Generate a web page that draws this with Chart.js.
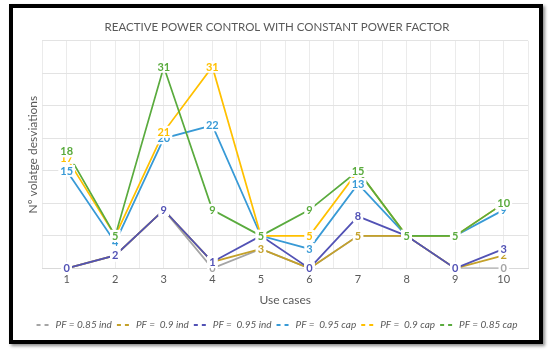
<!DOCTYPE html>
<html>
<head>
<meta charset="utf-8">
<script src="https://cdn.jsdelivr.net/npm/chart.js@4/dist/chart.umd.min.js"></script>
<style>
  html, body { margin: 0; padding: 0; background: #fff; }
  #wrap { position: relative; width: 550px; height: 354px; }
  #frame {
    position: absolute; left: 9px; top: 4px; width: 534px; height: 340px;
    box-sizing: border-box; border: 4px solid #000;
    box-shadow: 2px 2px 3px rgba(0,0,0,0.45); pointer-events: none;
  }
</style>
</head>
<body>
<div id="wrap">
  <canvas id="chart" width="550" height="354"></canvas>
  <div id="frame"></div>
</div>
<script>
// use cases on the x axis
const cases = [1, 2, 3, 4, 5, 6, 7, 8, 9, 10];

// nº of voltage deviations per power factor setting
const pf085ind = [0, 2, 9, 0, 3, 0, 5, 5, 0, 0];
const pf09ind  = [0, 2, 9, 1, 3, 0, 5, 5, 0, 2];
const pf095ind = [0, 2, 9, 1, 5, 0, 8, 5, 0, 3];
const pf095cap = [15, 4, 20, 22, 5, 3, 13, 5, 5, 9];
const pf09cap  = [17, 5, 21, 31, 5, 5, 15, 5, 5, 10];
const pf085cap = [18, 5, 31, 9, 5, 9, 15, 5, 5, 10];

const seriesNames = ["PF = 0.85 ind", "PF =  0.9 ind", "PF =  0.95 ind", "PF =  0.95 cap", "PF =  0.9 cap", "PF = 0.85 cap"];
const seriesValues = [pf085ind, pf09ind, pf095ind, pf095cap, pf09cap, pf085cap];
const seriesColors = ["#a5a5a5", "#c4a12a", "#5252b5", "#389ad6", "#ffc000", "#5aab3e"];

const yTicks = [0, 5, 10, 15, 20, 25, 30, 35];

const FONT = "Lato, 'Open Sans', sans-serif";
const GREY = "#595959";

/* labels centred on each point, with white boxes like Excel */
const pointLabels = {
  id: "pointLabels",
  afterDatasetsDraw(chart) {
    const ctx = chart.ctx;
    ctx.save();
    ctx.font = "bold 11px " + FONT;
    ctx.textAlign = "center";
    ctx.textBaseline = "middle";
    chart.data.datasets.forEach((ds, i) => {
      const meta = chart.getDatasetMeta(i);
      meta.data.forEach((pt, j) => {
        const txt = String(ds.data[j].y);
        const w = ctx.measureText(txt).width;
        ctx.fillStyle = "#fff";
        ctx.fillRect(pt.x - w / 2 - 2, pt.y - 6, w + 4, 12);
        ctx.fillStyle = ds.borderColor;
        ctx.fillText(txt, pt.x, pt.y + 0.5);
      });
    });
    ctx.restore();
  }
};

new Chart(document.getElementById("chart").getContext("2d"), {
  type: "line",
  data: {
    datasets: seriesNames.map((name, i) => ({
      label: name,
      data: cases.map((c, j) => ({ x: c, y: seriesValues[i][j] })),
      borderColor: seriesColors[i],
      backgroundColor: seriesColors[i],
      borderWidth: 1.75,
      pointRadius: 0,
      tension: 0,
      order: seriesNames.length - i
    }))
  },
  options: {
    responsive: false,
    animation: false,
    layout: { padding: { left: 26, right: 22, top: 8, bottom: 14 } },
    plugins: {
      title: {
        display: true,
        text: "REACTIVE POWER CONTROL WITH CONSTANT POWER FACTOR",
        color: GREY,
        font: { family: FONT, size: 11.5, weight: "normal" },
        padding: { top: 12, bottom: 7 }
      },
      legend: {
        position: "bottom",
        labels: {
          color: GREY,
          font: { family: FONT, size: 10, style: "italic" },
          usePointStyle: true,
          pointStyle: "line",
          pointStyleWidth: 14,
          padding: 5,
          generateLabels(chart) {
            return chart.data.datasets.map((ds, i) => ({
              text: ds.label,
              fillStyle: ds.borderColor,
              strokeStyle: ds.borderColor,
              fontColor: GREY,
              lineWidth: 2,
              lineDash: [4, 4],
              pointStyle: "line",
              datasetIndex: i
            }));
          }
        }
      },
      tooltip: { enabled: false }
    },
    scales: {
      x: {
        type: "linear",
        min: 0.5,
        max: 10.5,
        ticks: {
          stepSize: 0.5,
          autoSkip: false,
          maxRotation: 0,
          padding: 4,
          color: GREY,
          font: { family: FONT, size: 11 },
          callback: v => Number.isInteger(v) ? String(cases[v - 1]) : ""
        },
        grid: { color: "#ebebeb", drawTicks: false },
        border: { color: "#d9d9d9" },
        title: {
          display: true,
          text: "Use cases",
          color: GREY,
          font: { family: FONT, size: 12 },
          padding: { top: 3, bottom: 8 }
        }
      },
      y: {
        min: yTicks[0],
        max: yTicks[yTicks.length - 1],
        afterBuildTicks: axis => { axis.ticks = yTicks.map(v => ({ value: v })); },
        ticks: { display: false },
        grid: { color: "#e3e3e3", drawTicks: false },
        border: { display: false },
        title: {
          display: true,
          text: "Nº volatge desviations",
          color: GREY,
          font: { family: FONT, size: 12 },
          padding: { top: 0, bottom: 2 }
        }
      }
    }
  },
  plugins: [pointLabels]
});
</script>
</body>
</html>
